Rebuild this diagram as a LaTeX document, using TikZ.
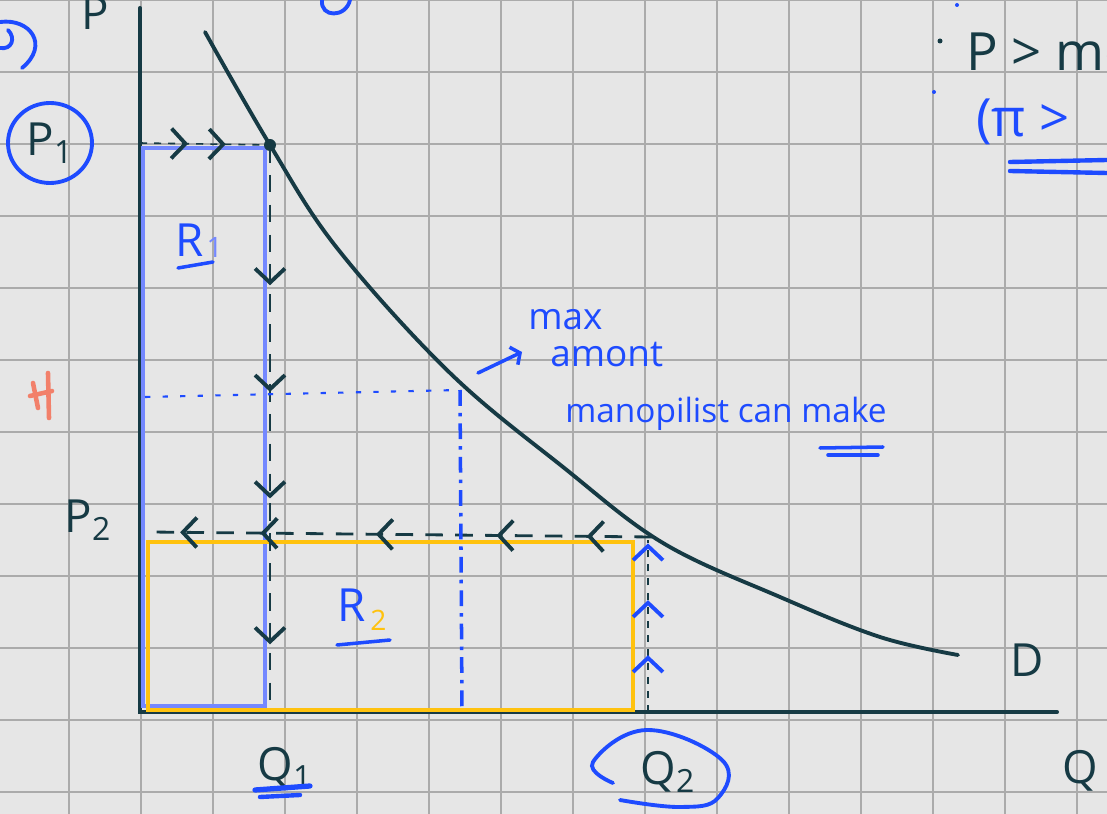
\documentclass[tikz,border=0pt]{standalone}
\usepackage{fontspec}
\setmainfont{Open Sans}
\usetikzlibrary{arrows.meta, decorations.markings, positioning, calc}

\definecolor{paper}{HTML}{E6E6E6}
\definecolor{gridgray}{HTML}{ABABAB}
\definecolor{inkdark}{HTML}{163A44}
\definecolor{inkblue}{HTML}{1E4BFF}
\definecolor{inklight}{HTML}{7488FF}
\definecolor{inkamber}{HTML}{FFC20E}
\definecolor{inkred}{HTML}{F2806A}

% chevron put on the guide lines
\newcommand{\chevtip}[1][inkdark]{\arrow{Straight Barb[length=8pt, width=17pt, line width=2.2pt, color=#1]}}

\begin{document}
\begin{tikzpicture}[x=0.02cm, y=-0.02cm,
    gridline/.style={draw=gridgray, line width=0.9pt},
    axisline/.style={draw=inkdark, line width=2.3pt, line cap=round},
    demand/.style={draw=inkdark, line width=2.2pt, line cap=round},
    guide/.style={draw=inkdark, line width=1.6pt, dash pattern=on 10pt off 7pt, postaction={decorate}},
    thinguide/.style={draw=inkdark, line width=0.9pt, dash pattern=on 4pt off 4pt, postaction={decorate}},
    blueguide/.style={draw=inkblue, line width=1.2pt, dash pattern=on 3pt off 7pt},
    bluecut/.style={draw=inkblue, line width=2pt, dash pattern=on 9pt off 4pt on 2pt off 4pt},
    rone/.style={draw=inklight, line width=1.8pt},
    rtwo/.style={draw=inkamber, line width=2.8pt},
    ring/.style={draw=inkblue, line width=2.2pt, line cap=round},
    darknote/.style={text=inkdark, inner sep=0pt, font=\fontsize{26}{30}\selectfont},
    bluenote/.style={text=inkblue, inner sep=0pt, font=\fontsize{21}{24}\selectfont},
    underline/.style={draw=inkblue, line width=2pt, line cap=round}
  ]

  % 1. Paper and grid
  \fill[paper] (0,0) rectangle (1107,814);
  \useasboundingbox (0,0) rectangle (1107,814);
  \foreach \gx in {-3,69,...,1077} \draw[gridline] (\gx,0) -- (\gx,814);
  \foreach \gy in {0,72,...,792} \draw[gridline] (0,\gy) -- (1107,\gy);

  % 2. Axes
  \coordinate (origin) at (140,712);
  \coordinate (ytop) at (140,8);
  \coordinate (xend) at (1057,712);
  \draw[axisline] (ytop) -- (origin) -- (xend);

  % 3. Revenue boxes
  \draw[rone] (143,148) rectangle (265,706);
  \draw[rtwo] (148,542) rectangle (633,710);

  % 4. Demand curve and its points
  \coordinate (p1pt) at (270,145);
  \coordinate (maxpt) at (460,390);
  \coordinate (q2pt) at (652,537);
  \draw[demand] plot[smooth, tension=0.6] coordinates {(205,32) (p1pt) (337,248) (450,373) (563,467) (663,543) (780,597) (880,637) (958,655)};
  \fill[inkdark] (p1pt) circle (6);

  % 5. Guides with chevrons
  \coordinate (p1axis) at (140,143);
  \coordinate (q1foot) at (270,706);
  \coordinate (p2axis) at (150,532);
  \coordinate (q2foot) at (648,712);
  \coordinate (q2top) at (648,540);
  \draw[thinguide, decoration={markings, mark=at position 0.37 with {\chevtip}, mark=at position 0.66 with {\chevtip}}] (p1axis) -- (p1pt);
  \draw[guide, decoration={markings, mark=at position 0.25 with {\chevtip}, mark=at position 0.44 with {\chevtip}, mark=at position 0.63 with {\chevtip}, mark=at position 0.89 with {\chevtip}}] (p1pt) -- (q1foot);
  \draw[guide, decoration={markings, mark=at position 0.13 with {\chevtip}, mark=at position 0.31 with {\chevtip}, mark=at position 0.55 with {\chevtip}, mark=at position 0.78 with {\chevtip}, mark=at position 0.94 with {\chevtip}}] (q2pt) -- (p2axis);
  \draw[thinguide, decoration={markings, mark=at position 0.33 with {\chevtip[inkblue]}, mark=at position 0.65 with {\chevtip[inkblue]}, mark=at position 0.98 with {\chevtip[inkblue]}}] (q2foot) -- (q2top);

  % 6. Blue guides to the max point
  \coordinate (maxaxis) at (145,397);
  \coordinate (maxfoot) at (462,708);
  \draw[blueguide] (maxaxis) -- (maxpt);
  \draw[bluecut] (maxpt) -- (maxfoot);

  % 7. Axis labels
  \node[darknote, anchor=south] (plabel) at (95,30) {P};
  \node[darknote, anchor=south] (qlabel) at (1080,792) {Q};
  \node[darknote] (dlabel) at (1027,660) {D};
  \node[darknote] (p1label) at (50,143) {P\textsubscript{1}};
  \node[darknote] (p2label) at (88,520) {P\textsubscript{2}};
  \node[darknote] (q1label) at (285,768) {Q\textsubscript{1}};
  \node[darknote] (q2label) at (668,772) {Q\textsubscript{2}};
  \draw[ring] (p1label) ellipse (42 and 40);
  \draw[ring] plot[smooth, tension=0.7] coordinates {(613,783) (593,762) (647,730) (722,760) (718,798) (680,807) (620,800)};
  \draw[underline, line width=3pt] (255,790) -- (310,786);
  \draw[underline, line width=2.5pt] (260,797) -- (300,795);

  % 8. Box labels
  \node[bluenote, font=\fontsize{26}{30}\selectfont] (r1label) at (190,240) {R};
  \node[text=inklight, inner sep=0pt, font=\fontsize{16}{18}\selectfont, right=1pt of r1label, yshift=-4pt] (r1sub) {1};
  \draw[underline] (178,268) -- (213,262);
  \node[bluenote, font=\fontsize{26}{30}\selectfont] (r2label) at (352,605) {R};
  \node[text=inkamber, inner sep=0pt, font=\fontsize{16}{18}\selectfont, right=2pt of r2label, yshift=-9pt] (r2sub) {2};
  \draw[underline] (337,645) -- (390,640);

  % 9. Note on the max point
  \node[bluenote, anchor=west] (maxlbl) at (528,320) {max};
  \node[bluenote, anchor=west] (amontlbl) at (550,355) {amont};
  \node[bluenote, anchor=west, font=\fontsize{19}{22}\selectfont] (mononote) at (565,414) {manopilist can make};
  \coordinate (notefoot) at (478,373);
  \coordinate (notehead) at (522,352);
  \draw[underline, -{Straight Barb[length=4pt, width=11pt]}] (notefoot) -- (notehead);
  \draw[underline] (820,448) -- (883,447);
  \draw[underline] (828,455) -- (878,455);

  % 10. Corner notes
  \node[darknote, anchor=west, font=\fontsize{30}{34}\selectfont] (pmc) at (966,52) {P > mc};
  \node[bluenote, anchor=west, font=\fontsize{30}{34}\selectfont] (profit) at (976,122) {(π >};
  \fill[inkdark] (940,41) circle (2.5);
  \fill[inkblue] (957,5) circle (2);
  \fill[inkblue] (934,92) circle (2);
  \draw[underline, line width=2.5pt] (1010,162) -- (1107,160);
  \draw[underline, line width=2.5pt] (1010,171) -- (1107,173);

  % 11. Scraps at the edges
  \draw[ring] (0,22) .. controls (30,18) and (50,45) .. (22,68);
  \draw[ring] (0,48) .. controls (12,50) and (16,38) .. (8,30);
  \draw[ring] (322,0) .. controls (320,18) and (346,18) .. (350,0);
  \draw[draw=inkred, line width=2.6pt, line cap=round] (48,373) -- (49,418);
  \draw[draw=inkred, line width=2.6pt, line cap=round] (33,383) -- (38,408);
  \draw[draw=inkred, line width=2.6pt, line cap=round] (30,396) -- (52,391);

\end{tikzpicture}
\end{document}
